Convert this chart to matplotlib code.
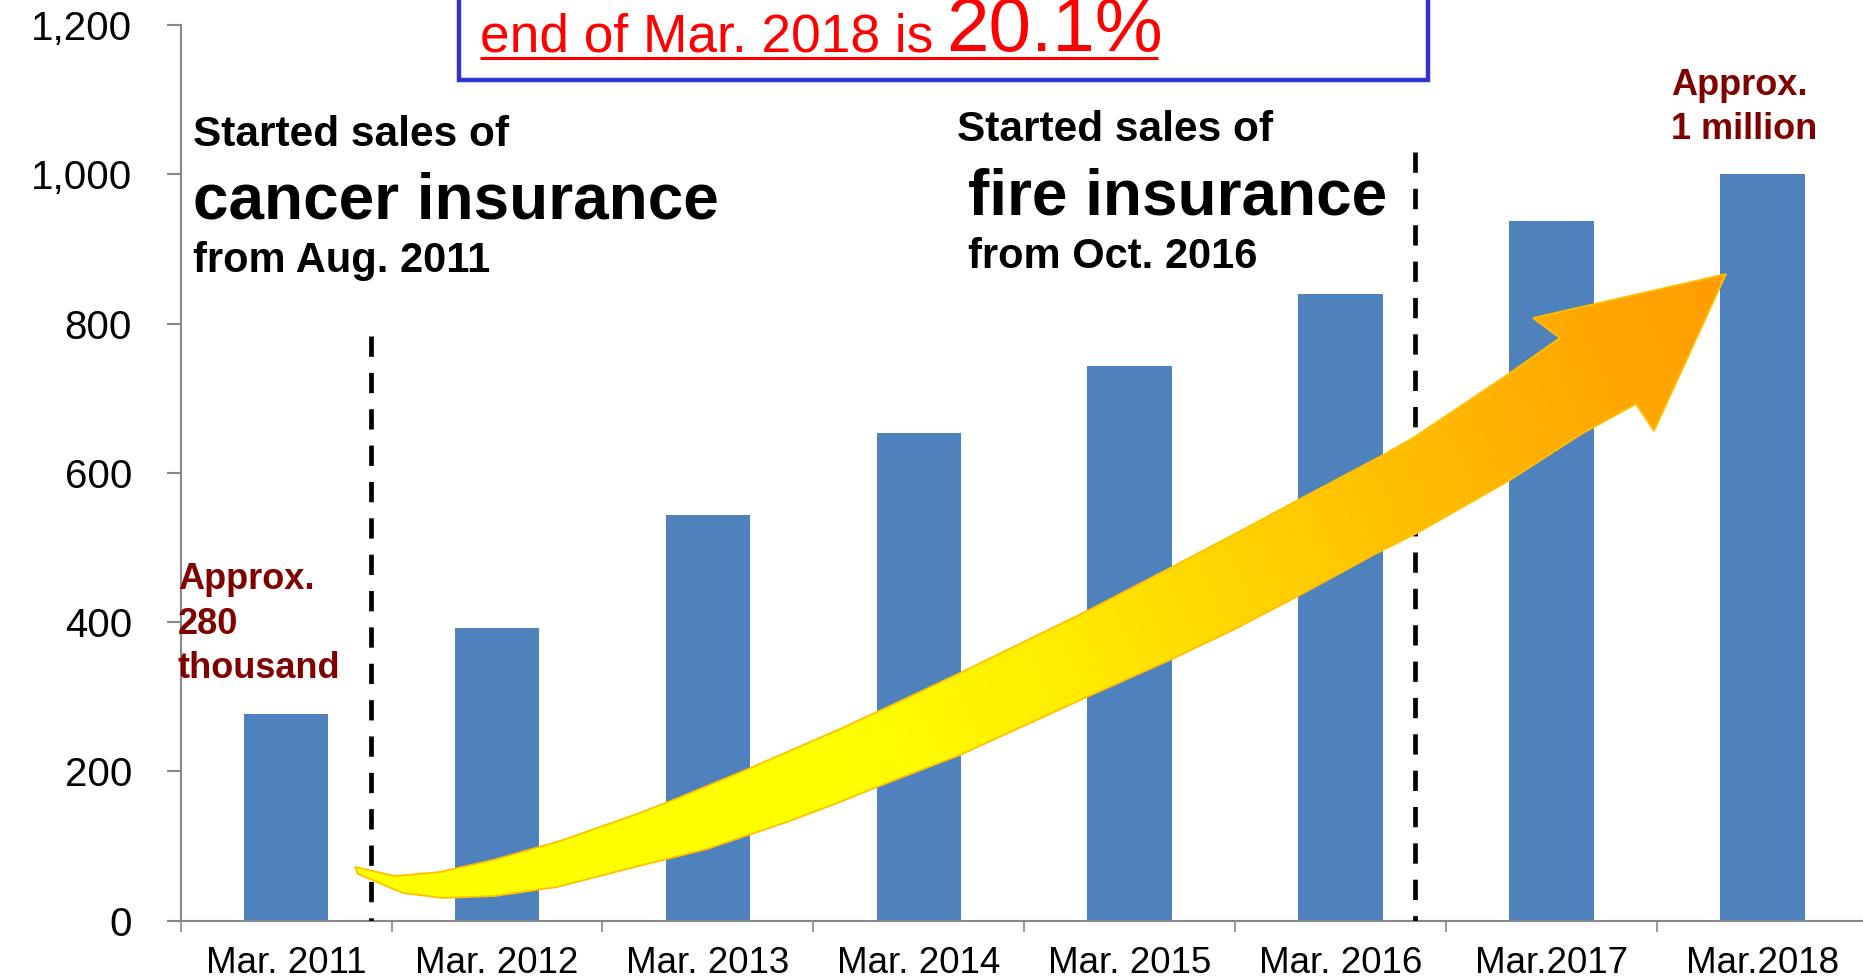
import matplotlib
matplotlib.use("Agg")
import matplotlib.pyplot as plt
import numpy as np
from matplotlib.patches import Polygon, Rectangle
from matplotlib.colors import LinearSegmentedColormap
from matplotlib.ticker import FuncFormatter, FixedLocator

plt.rcParams['font.family'] = ['Liberation Sans', 'DejaVu Sans']

# ---------------- data ----------------
categories = ["Mar. 2011", "Mar. 2012", "Mar. 2013", "Mar. 2014",
              "Mar. 2015", "Mar. 2016", "Mar.2017", "Mar.2018"]
values = [277, 392, 543, 654, 743, 840, 937, 1001]
y_ticks = [0, 200, 400, 600, 800, 1000, 1200]
event_x = [0.405, 5.353]          # dashed event markers (category units)
event_top = [784, 1030]

W, H = 1863, 980
fig = plt.figure(figsize=(W / 100, H / 100), dpi=100)

# ---------------- main axes ----------------
ax_left = 180.6 / W
ax_bottom = (H - 920.7) / H
ax_h = (920.7 - 25) / H
ax_w = 8 * 210.9 / W
ax = fig.add_axes([ax_left, ax_bottom, ax_w, ax_h])

x = np.arange(len(categories))
ax.bar(x, values, width=0.40, color='#4F81BD', zorder=2)

ax.set_xlim(-0.5, len(categories) - 0.5)
ax.set_ylim(0, 1200)
ax.set_yticks(y_ticks)
ax.yaxis.set_major_formatter(FuncFormatter(lambda v, p: f"{v:,.0f}"))
ax.set_xticks(x)
ax.set_xticklabels(categories)
ax.xaxis.set_minor_locator(FixedLocator(np.arange(-0.5, len(categories) + 0.5, 1)))

for s in ['top', 'right']:
    ax.spines[s].set_visible(False)
for s in ['left', 'bottom']:
    ax.spines[s].set_color('#888888')
    ax.spines[s].set_linewidth(1.5)

ax.tick_params(axis='y', which='major', length=10, width=1.5, color='#888888',
               labelsize=29, pad=25, labelcolor='black')
ax.tick_params(axis='x', which='major', length=0, labelsize=26.5, pad=18,
               labelcolor='black')
ax.tick_params(axis='x', which='minor', length=8, width=1.2, color='#888888')

for ex, et in zip(event_x, event_top):
    ax.plot([ex, ex], [et, 0], color='black', lw=3.4,
            linestyle=(0, (4.3, 3.4)), zorder=3, dash_capstyle='butt')

# ---------------- overlay (pixel coordinates) ----------------
ov = fig.add_axes([0, 0, 1, 1], zorder=5)
ov.axis('off')
ov.patch.set_alpha(0)

# curved arrow (decoration)
upper = [(355, 867), (395, 876), (440, 872), (493, 860), (560, 841),
         (637, 814), (673, 800), (748, 769), (840, 729), (877, 712),
         (960, 673), (1087, 611), (1170, 568), (1233, 535), (1300, 499),
         (1383, 455), (1413, 438), (1510, 373), (1560, 338)]
head = [(1533, 318), (1726, 274), (1654, 431), (1636, 404)]
lower = [(1583, 433), (1510, 480), (1417, 533), (1377, 553), (1300, 595),
         (1233, 630), (1170, 660), (1087, 697), (960, 755), (877, 787),
         (840, 802), (787, 822), (707, 849), (627, 869), (557, 887),
         (495, 896), (443, 898), (403, 893), (358, 874)]
arrow_pts = upper + head + lower

cmap = LinearSegmentedColormap.from_list(
    'arr', [(0, '#FFFF00'), (0.33, '#FFFF00'), (0.48, '#FFEE00'),
            (0.6, '#FFD800'), (0.72, '#FFC200'), (0.85, '#FFAE00'),
            (1.0, '#FF9C00')])
x0, y0, x1, y1 = 355, 867, 1726, 274
gx = np.linspace(340, 1740, 700)
gy = np.linspace(260, 910, 330)
GX, GY = np.meshgrid(gx, gy)
dx, dy = x1 - x0, y1 - y0
T = ((GX - x0) * dx + (GY - y0) * dy) / (dx * dx + dy * dy)
T = np.clip(T, 0, 1)
im = ov.imshow(T, cmap=cmap, vmin=0, vmax=1, extent=(340, 1740, 910, 260),
               origin='upper', aspect='auto', zorder=5, interpolation='bilinear')
clip = Polygon(arrow_pts, closed=True, transform=ov.transData)
im.set_clip_path(clip)
ov.add_patch(Polygon(arrow_pts, closed=True, facecolor='none',
                     edgecolor='#FFC000', lw=1.3, zorder=6))
ov.set_xlim(0, W)
ov.set_ylim(H, 0)

# top box
ov.add_patch(Rectangle((459, -30), 1428 - 459, 80 + 30, fill=False,
                       edgecolor='#3333CC', lw=3.2, zorder=7))
ov.text(480, 51, "end of Mar. 2018 is", color='#FF0000', fontsize=38.3,
        va='baseline', ha='left', zorder=8)
ov.text(946, 51, "20.1%", color='#FF0000', fontsize=55,
        va='baseline', ha='left', zorder=8)
ov.plot([480, 1158], [58.5, 58.5], color='#FF0000', lw=2.2, zorder=8,
        solid_capstyle='butt')

# annotations
bold = dict(fontweight='bold', color='black', va='baseline', ha='left', zorder=8)
ov.text(193, 146, "Started sales of", fontsize=30.5, **bold)
ov.text(193, 218, "cancer insurance", fontsize=46, **bold)
ov.text(193, 272, "from Aug. 2011", fontsize=30, **bold)

ov.text(957, 141, "Started sales of", fontsize=30.5, **bold)
ov.text(968, 214, "fire insurance", fontsize=46, **bold)
ov.text(968, 268, "from Oct. 2016", fontsize=30, **bold)

red = dict(fontweight='bold', color='#800000', va='baseline', ha='left',
           fontsize=26, zorder=8)
ov.text(178, 589, "Approx.", **red)
ov.text(178, 634, "280", **red)
ov.text(178, 678, "thousand", **red)
ov.text(1671, 95, "Approx.", **red)
ov.text(1671, 139, "1 million", **red)

fig.savefig("out.png", dpi=100)
